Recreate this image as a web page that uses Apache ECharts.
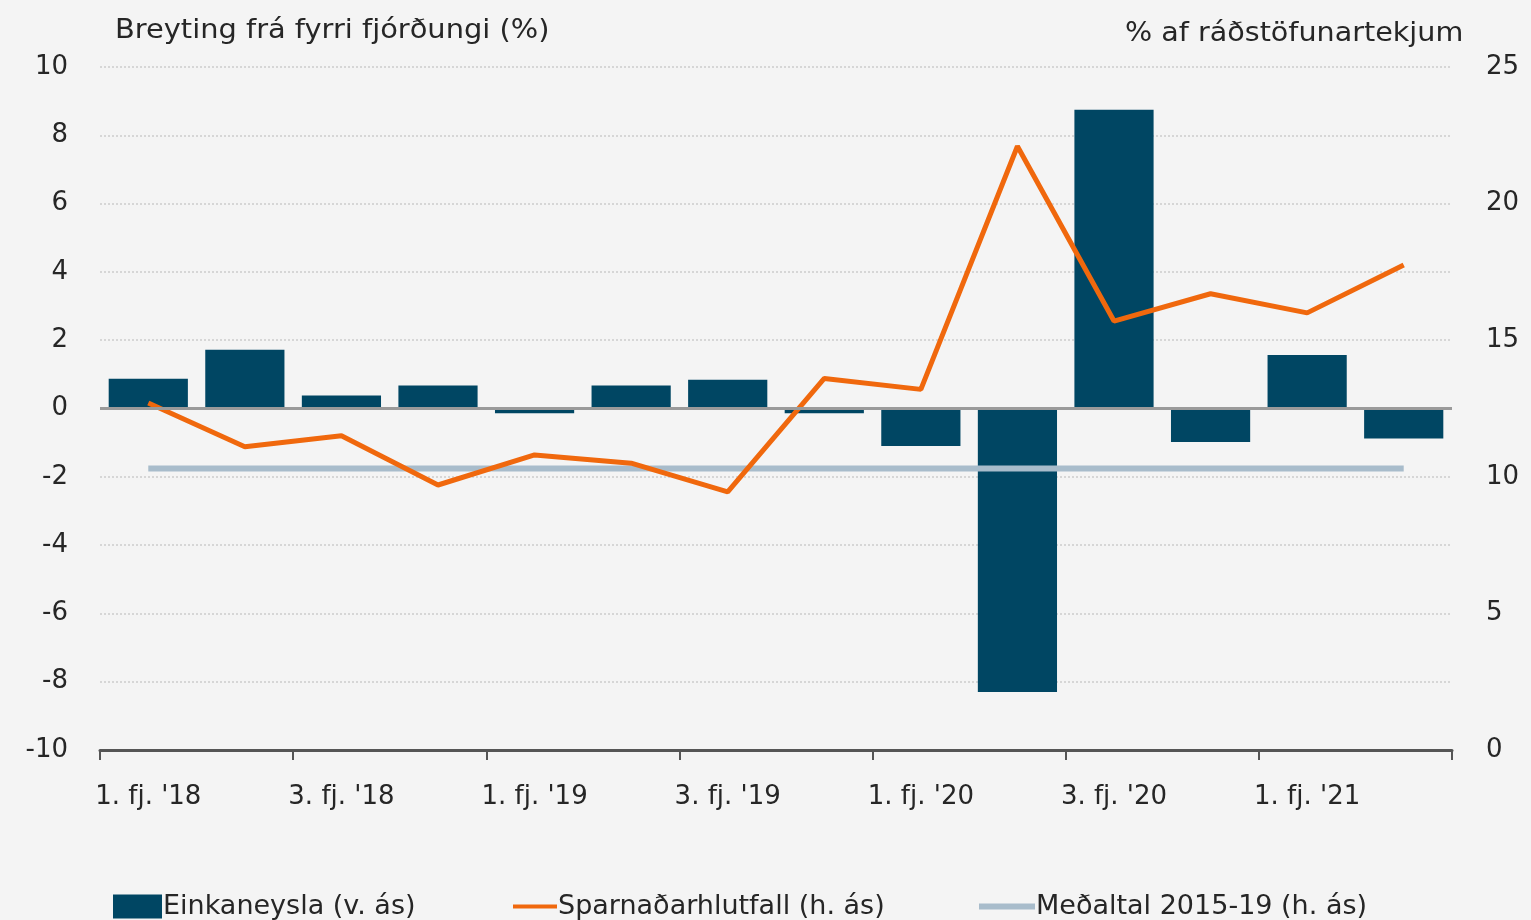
<!DOCTYPE html>
<html>
<head>
<meta charset="utf-8">
<script src="https://cdn.jsdelivr.net/npm/echarts@6/dist/echarts.min.js"></script>
<style>
  html, body { margin: 0; padding: 0; background: #f4f4f4; }
  #chart { width: 1531px; height: 920px; }
</style>
</head>
<body>
<div id="chart"></div>
<script>
// ársfjórðungar
var quarters = ["1. fj. '18", "2. fj. '18", "3. fj. '18", "4. fj. '18",
                "1. fj. '19", "2. fj. '19", "3. fj. '19", "4. fj. '19",
                "1. fj. '20", "2. fj. '20", "3. fj. '20", "4. fj. '20",
                "1. fj. '21", "2. fj. '21"];
// Einkaneysla, breyting frá fyrri fjórðungi (v. ás)
var einkaneysla = [0.87, 1.72, 0.38, 0.67, -0.14, 0.67, 0.84, -0.14, -1.1, -8.3, 8.75, -0.98, 1.57, -0.88];
// Sparnaðarhlutfall, % af ráðstöfunartekjum (h. ás)
var sparnadur = [12.7, 11.1, 11.5, 9.7, 10.8, 10.5, 9.45, 13.6, 13.2, 22.1, 15.7, 16.7, 16.0, 17.75];
// Meðaltal 2015-19 (h. ás)
var medaltal = [10.3, 10.3, 10.3, 10.3, 10.3, 10.3, 10.3, 10.3, 10.3, 10.3, 10.3, 10.3, 10.3, 10.3];

var FONT = "'DejaVu Sans', sans-serif";
var TXT = '#262626';

var chart = echarts.init(document.getElementById('chart'));

var option = {
    backgroundColor: '#f4f4f4',
    animation: false,
    textStyle: {fontFamily: FONT, color: TXT},
    grid: {left: 100, right: 79, top: 67, bottom: 170, containLabel: false},
    graphic: [
        {type: 'text', x: 115, y: 18, scaleX: 1.11,
            style: {text: 'Breyting frá fyrri fjórðungi (%)', font: '26px ' + FONT, fill: TXT}},
        {type: 'text', x: 1125, y: 21, scaleX: 1.1,
            style: {text: '% af ráðstöfunartekjum', font: '26px ' + FONT, fill: TXT}}
    ],
    legend: [
        {left: 108, top: 888, itemWidth: 49, itemHeight: 24, itemGap: 0,
            icon: 'rect', data: ['Einkaneysla (v. ás)'],
            textStyle: {fontSize: 27, fontFamily: FONT, color: TXT, padding: [0, 0, 0, -4]}},
        {left: 508, top: 888, itemWidth: 44, itemHeight: 24, itemGap: 0,
            data: [{name: 'Sparnaðarhlutfall (h. ás)', icon: 'path://M0,10 L44,10 L44,14 L0,14 Z'}],
            textStyle: {fontSize: 27, fontFamily: FONT, color: TXT, padding: [0, 0, 0, -4]}},
        {left: 974, top: 888, itemWidth: 56, itemHeight: 24, itemGap: 0,
            data: [{name: 'Meðaltal 2015-19 (h. ás)', icon: 'path://M0,9 L56,9 L56,15 L0,15 Z'}],
            textStyle: {fontSize: 27, fontFamily: FONT, color: TXT, padding: [0, 0, 0, -4]}}
    ],
    xAxis: {
        type: 'category',
        data: quarters,
        boundaryGap: true,
        axisLine: {onZero: false, lineStyle: {color: '#555', width: 3}},
        axisTick: {show: true, interval: 1, length: 10, lineStyle: {color: '#555', width: 2}},
        axisLabel: {interval: 1, fontSize: 26, color: TXT, margin: 34, fontFamily: FONT}
    },
    yAxis: [
        {
            type: 'value', min: -10, max: 10, interval: 2,
            axisLine: {show: false}, axisTick: {show: false},
            axisLabel: {fontSize: 26, color: TXT, margin: 32, fontFamily: FONT},
            splitLine: {show: true, lineStyle: {color: '#d6d6d6', width: 2, type: 'dotted'}}
        },
        {
            type: 'value', min: 0, max: 25, interval: 5,
            axisLine: {show: false}, axisTick: {show: false},
            axisLabel: {fontSize: 26, color: TXT, margin: 34, fontFamily: FONT},
            splitLine: {show: false}
        }
    ],
    series: [
        {
            name: 'Einkaneysla (v. ás)',
            type: 'bar',
            yAxisIndex: 0,
            data: einkaneysla,
            barCategoryGap: '18%',
            itemStyle: {color: '#004663'},
            markLine: {
                silent: true, symbol: 'none', label: {show: false},
                lineStyle: {color: '#9a9a9a', width: 3, type: 'solid'},
                data: [{yAxis: 0}]
            },
            z: 2
        },
        {
            name: 'Meðaltal 2015-19 (h. ás)',
            type: 'line',
            yAxisIndex: 1,
            data: medaltal,
            symbol: 'none',
            lineStyle: {color: '#a8bccb', width: 6},
            itemStyle: {color: '#a8bccb'},
            z: 3
        },
        {
            name: 'Sparnaðarhlutfall (h. ás)',
            type: 'line',
            yAxisIndex: 1,
            data: sparnadur,
            symbol: 'none',
            lineStyle: {color: '#f0680d', width: 5},
            itemStyle: {color: '#f0680d'},
            z: 4
        }
    ]
};

chart.setOption(option);
</script>
</body>
</html>
